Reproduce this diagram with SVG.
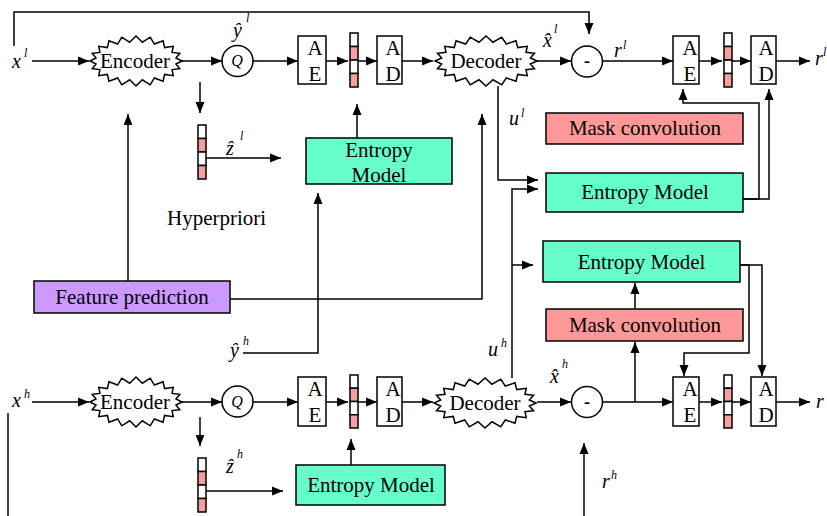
<svg xmlns="http://www.w3.org/2000/svg" width="827" height="516" viewBox="0 0 827 516">
<defs>
<style>
.ln{fill:none;stroke:#000;stroke-width:1.5}
.ar{marker-end:url(#ah)}
.bx{stroke:#000;stroke-width:1.5}
.w{fill:#fff}
.em{fill:#66FFCC}
.mc{fill:#FF9999}
.fp{fill:#CC99FF}
.pk{fill:#F4A0A0}
.st{fill:#fff;stroke:#000;stroke-width:1.5}
.t{font-family:"Liberation Serif","Times New Roman",serif;font-size:21px;fill:#000}
.c{text-anchor:middle}
.v{font-family:"Liberation Serif","Times New Roman",serif;font-style:italic;font-size:20px}
.s{font-style:italic;font-size:12px}
.q{font-family:"Liberation Serif","Times New Roman",serif;font-style:italic;font-size:16px;text-anchor:middle}
.m{font-family:"Liberation Serif","Times New Roman",serif;font-weight:bold;font-size:18px;text-anchor:middle}
</style>
<marker id="ah" viewBox="0 0 11 10" refX="11" refY="5" markerWidth="11" markerHeight="10" markerUnits="userSpaceOnUse" orient="auto">
<path d="M0,0.5 L11,5 L0,9.5 z" fill="#000"/>
</marker>
<path id="star" vector-effect="non-scaling-stroke" d="M50,0 L43.46,2.97 L47.55,7.73 L39.2,8.63 L40.45,14.7 L31.11,13.43 L29.39,20.23 L19.98,16.93 L15.45,23.78 L6.88,18.77 L0,25 L-6.88,18.77 L-15.45,23.78 L-19.98,16.93 L-29.39,20.23 L-31.11,13.43 L-40.45,14.7 L-39.2,8.63 L-47.55,7.73 L-43.46,2.97 L-50,0 L-43.46,-2.97 L-47.55,-7.73 L-39.2,-8.63 L-40.45,-14.7 L-31.11,-13.43 L-29.39,-20.23 L-19.98,-16.93 L-15.45,-23.78 L-6.88,-18.77 L0,-25 L6.88,-18.77 L15.45,-23.78 L19.98,-16.93 L29.39,-20.23 L31.11,-13.43 L40.45,-14.7 L39.2,-8.63 L47.55,-7.73 L43.46,-2.97 Z"/>
</defs>

<g id="connectors" class="ln">
<path class="ar" d="M32,61H89"/>
<path class="ar" d="M14,46V12H589V34"/>
<path class="ar" d="M182,61H222"/>
<path class="ar" d="M253,61H298"/>
<path class="ar" d="M326,61H348"/>
<path class="ar" d="M358,61H377"/>
<path class="ar" d="M402,61H433"/>
<path class="ar" d="M537,61H571"/>
<path class="ar" d="M602,61H673"/>
<path class="ar" d="M699,61H722"/>
<path class="ar" d="M732,61H751"/>
<path class="ar" d="M776,61H810"/>
<path class="ar" d="M200,82V113"/>
<path class="ar" d="M206,158H281"/>
<path class="ar" d="M357,138V104"/>
<path class="ar" d="M128,281V114"/>
<path class="ar" d="M230,299H482V114"/>
<path class="ar" d="M243,353H318V193"/>
<path class="ar" d="M498,86V180H538"/>
<path class="ar" d="M512,378V189H538"/>
<path class="ar" d="M512,265H533"/>
<path class="ar" d="M743,199H759V103H683V89"/>
<path class="ar" d="M743,199H769V89"/>
<path class="ar" d="M32,402H89"/>
<path class="ar" d="M182,402H222"/>
<path class="ar" d="M253,402H298"/>
<path class="ar" d="M326,402H348"/>
<path class="ar" d="M358,402H377"/>
<path class="ar" d="M402,402H433"/>
<path class="ar" d="M537,402H571"/>
<path class="ar" d="M602,402H673"/>
<path class="ar" d="M635,402V342"/>
<path class="ar" d="M635,309V283"/>
<path class="ar" d="M740,265H749V353H684V376"/>
<path class="ar" d="M740,265H762V376"/>
<path class="ar" d="M699,402H722"/>
<path class="ar" d="M732,402H751"/>
<path class="ar" d="M776,402H810"/>
<path class="ar" d="M200,417V446"/>
<path class="ar" d="M206,491H283"/>
<path class="ar" d="M351,465V439"/>
<path class="ar" d="M584,516V443"/>
<path d="M8,413V516"/>
</g>

<!-- upper branch -->
<g id="encoder-l"><use href="#star" class="st" transform="translate(136,61) scale(0.92,1)"/><text class="t c" x="135" y="68">Encoder</text></g>
<g id="q-l"><circle class="st" cx="237.5" cy="61" r="15.5"/><text class="q" x="237" y="66">Q</text></g>
<g id="ae1-l"><rect class="bx w" x="298" y="36" width="28" height="48"/><text class="t c" x="315" y="55">A</text><text class="t c" x="315" y="81">E</text></g>
<g id="bits1-l" class="bx"><rect class="w" x="350" y="33" width="8" height="13.5"/><rect class="pk" x="350" y="46.5" width="8" height="13.5"/><rect class="w" x="350" y="60" width="8" height="13.5"/><rect class="pk" x="350" y="73.5" width="8" height="13.5"/></g>
<g id="ad1-l"><rect class="bx w" x="377" y="36" width="25" height="48"/><text class="t c" x="393" y="55">A</text><text class="t c" x="393" y="81">D</text></g>
<g id="decoder-l"><use href="#star" class="st" transform="translate(486,61) scale(1.02,1)"/><text class="t c" x="486" y="68">Decoder</text></g>
<g id="minus-l"><circle class="st" cx="587" cy="61.5" r="15.5"/><text class="m" x="587" y="67">-</text></g>
<g id="ae2-l"><rect class="bx w" x="673" y="36" width="26" height="48"/><text class="t c" x="690" y="55">A</text><text class="t c" x="690" y="81">E</text></g>
<g id="bits2-l" class="bx"><rect class="w" x="724" y="33" width="8" height="13.5"/><rect class="pk" x="724" y="46.5" width="8" height="13.5"/><rect class="w" x="724" y="60" width="8" height="13.5"/><rect class="pk" x="724" y="73.5" width="8" height="13.5"/></g>
<g id="ad2-l"><rect class="bx w" x="751" y="36" width="25" height="48"/><text class="t c" x="766" y="55">A</text><text class="t c" x="766" y="81">D</text></g>
<g id="zbits-l" class="bx"><rect class="w" x="198" y="125" width="8" height="13.5"/><rect class="pk" x="198" y="138.5" width="8" height="13.5"/><rect class="w" x="198" y="152" width="8" height="13.5"/><rect class="pk" x="198" y="165.5" width="8" height="13.5"/></g>
<g id="entropy-hyper-l"><rect class="bx em" x="306" y="138" width="146" height="46"/><text class="t c" x="379" y="157">Entropy</text><text class="t c" x="379" y="182">Model</text></g>
<g id="mask-l"><rect class="bx mc" x="546" y="113" width="197" height="31"/><text class="t c" x="645" y="135">Mask convolution</text></g>
<g id="entropy-l"><rect class="bx em" x="546" y="173" width="197" height="39"/><text class="t c" x="645" y="199">Entropy Model</text></g>

<g id="hyperpriori"><text class="t" x="167" y="225">Hyperpriori</text></g>
<g id="feature-prediction"><rect class="bx fp" x="34" y="281" width="196" height="32"/><text class="t c" x="132" y="304">Feature prediction</text></g>

<!-- lower branch -->
<g id="entropy-h"><rect class="bx em" x="543" y="241" width="197" height="41"/><text class="t c" x="641.5" y="269">Entropy Model</text></g>
<g id="mask-h"><rect class="bx mc" x="546" y="309" width="197" height="32"/><text class="t c" x="645" y="332">Mask convolution</text></g>
<g id="encoder-h"><use href="#star" class="st" transform="translate(136,402) scale(0.92,1)"/><text class="t c" x="135" y="409">Encoder</text></g>
<g id="q-h"><circle class="st" cx="237.5" cy="401.5" r="15.5"/><text class="q" x="237" y="407">Q</text></g>
<g id="ae1-h"><rect class="bx w" x="298" y="377" width="28" height="49"/><text class="t c" x="315" y="396">A</text><text class="t c" x="315" y="422">E</text></g>
<g id="bits1-h" class="bx"><rect class="w" x="350" y="375" width="8" height="13.25"/><rect class="pk" x="350" y="388.25" width="8" height="13.25"/><rect class="w" x="350" y="401.5" width="8" height="13.25"/><rect class="pk" x="350" y="414.75" width="8" height="13.25"/></g>
<g id="ad1-h"><rect class="bx w" x="377" y="377" width="25" height="49"/><text class="t c" x="393" y="396">A</text><text class="t c" x="393" y="422">D</text></g>
<g id="decoder-h"><use href="#star" class="st" transform="translate(485,403) scale(1.02,1)"/><text class="t c" x="485" y="410">Decoder</text></g>
<g id="minus-h"><circle class="st" cx="587" cy="402" r="15.5"/><text class="m" x="587" y="408">-</text></g>
<g id="ae2-h"><rect class="bx w" x="673" y="377" width="26" height="49"/><text class="t c" x="690" y="396">A</text><text class="t c" x="690" y="422">E</text></g>
<g id="bits2-h" class="bx"><rect class="w" x="724" y="375" width="8" height="13.25"/><rect class="pk" x="724" y="388.25" width="8" height="13.25"/><rect class="w" x="724" y="401.5" width="8" height="13.25"/><rect class="pk" x="724" y="414.75" width="8" height="13.25"/></g>
<g id="ad2-h"><rect class="bx w" x="751" y="377" width="25" height="49"/><text class="t c" x="766" y="396">A</text><text class="t c" x="766" y="422">D</text></g>
<g id="zbits-h" class="bx"><rect class="w" x="198" y="458" width="8" height="13.5"/><rect class="pk" x="198" y="471.5" width="8" height="13.5"/><rect class="w" x="198" y="485" width="8" height="13.5"/><rect class="pk" x="198" y="498.5" width="8" height="13.5"/></g>
<g id="entropy-hyper-h"><rect class="bx em" x="296" y="465" width="149" height="40"/><text class="t c" x="371" y="492">Entropy Model</text></g>

<!-- variable labels -->
<g id="labels">
<text class="v" x="12" y="68">x<tspan class="s" x="24" y="57">l</tspan></text>
<text class="v" x="233" y="37">ŷ<tspan class="s" x="246" y="22">l</tspan></text>
<text class="v" x="226" y="155">ẑ<tspan class="s" x="240" y="140">l</tspan></text>
<text class="v" x="543" y="47">x̂<tspan class="s" x="554" y="33">l</tspan></text>
<text class="v" x="614" y="57">r<tspan class="s" x="623" y="49">l</tspan></text>
<text class="v" x="815" y="65">r<tspan class="s" x="823" y="56">l</tspan></text>
<text class="v" x="509" y="125">u<tspan class="s" x="521" y="117">l</tspan></text>
<text class="v" x="488" y="356">u<tspan class="s" x="501" y="347">h</tspan></text>
<text class="v" x="230" y="357">ŷ<tspan class="s" x="243" y="345">h</tspan></text>
<text class="v" x="12" y="407">x<tspan class="s" x="24" y="398">h</tspan></text>
<text class="v" x="226" y="473">ẑ<tspan class="s" x="237" y="458">h</tspan></text>
<text class="v" x="550" y="383">x̂<tspan class="s" x="562" y="368">h</tspan></text>
<text class="v" x="602" y="488">r<tspan class="s" x="611" y="479">h</tspan></text>
<text class="v" x="816" y="408">r</text>
</g>
</svg>
